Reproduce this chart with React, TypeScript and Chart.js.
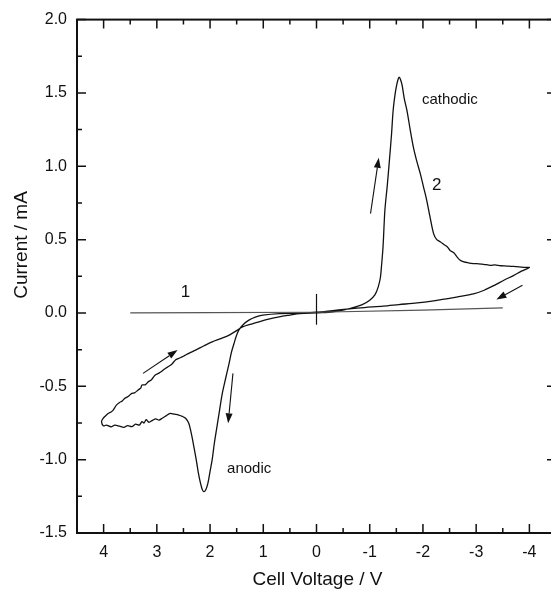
import React, { useEffect, useRef } from "react";
import { Chart, registerables } from "chart.js";
Chart.register(...registerables);

const xMajorTicks = [4, 3, 2, 1, 0, -1, -2, -3, -4];
const xMinorTicks = [3.5, 2.5, 1.5, 0.5, -0.5, -1.5, -2.5, -3.5];
const yMajorTicks = [2.0, 1.5, 1.0, 0.5, 0.0, -0.5, -1.0, -1.5];
const yMinorTicks = [1.75, 1.25, 0.75, 0.25, -0.25, -0.75, -1.25];

const xTitle = "Cell Voltage / V";
const yTitle = "Current / mA";

// Curve 1 (blank electrolyte)
const curve1Voltage = [3.5, 2.0, 0.0, -2.0, -3.5];
const curve1Current = [0.0, 0.002, 0.005, 0.02, 0.035];

// Curve 2 (cyclic voltammogram): 0 -> -4 -> 0 -> +4 -> 0
const cathodicVoltage = [0, -0.3, -0.62, -0.85, -1.0, -1.1, -1.16, -1.2, -1.22, -1.25, -1.285, -1.33, -1.37, -1.41, -1.44, -1.48, -1.51, -1.535, -1.556, -1.58, -1.61, -1.65, -1.7, -1.76, -1.82, -1.88, -1.95, -2.01, -2.07, -2.13, -2.2, -2.26, -2.33, -2.4, -2.46, -2.51, -2.58, -2.64, -2.7, -2.77, -2.85, -2.95, -3.05, -3.14, -3.27, -3.35, -3.46, -3.58, -3.65, -3.75, -3.85, -3.93, -4.0];
const cathodicCurrent = [0, 0.008, 0.03, 0.055, 0.087, 0.125, 0.178, 0.24, 0.314, 0.45, 0.7, 0.87, 1.04, 1.22, 1.38, 1.5, 1.56, 1.595, 1.607, 1.59, 1.55, 1.46, 1.38, 1.25, 1.13, 1.04, 0.95, 0.86, 0.77, 0.66, 0.541, 0.5, 0.484, 0.465, 0.45, 0.426, 0.41, 0.382, 0.36, 0.348, 0.342, 0.337, 0.335, 0.332, 0.325, 0.328, 0.322, 0.32, 0.318, 0.316, 0.313, 0.311, 0.31];
const returnVoltage = [-3.85, -3.7, -3.52, -3.35, -3.15, -2.95, -2.7, -2.5, -2.2, -1.89, -1.55, -1.25, -0.9, -0.62, -0.3, 0];
const returnCurrent = [0.285, 0.255, 0.223, 0.19, 0.155, 0.13, 0.113, 0.099, 0.083, 0.069, 0.057, 0.046, 0.037, 0.028, 0.016, 0.005];
const anodicVoltage = [0.32, 0.7, 1.01, 1.15, 1.27, 1.38, 1.46, 1.51, 1.55, 1.6, 1.64, 1.71, 1.77, 1.82, 1.87, 1.92, 1.96, 2.0, 2.04, 2.08, 2.12, 2.15, 2.18, 2.22, 2.26, 2.3, 2.34, 2.4, 2.46, 2.52, 2.59, 2.67, 2.75, 2.82, 2.9, 2.96, 3.02, 3.09, 3.15, 3.2, 3.24, 3.28, 3.33, 3.4, 3.47, 3.55, 3.62, 3.7, 3.79, 3.86, 3.95, 4.0, 4.04];
const anodicCurrent = [-0.002, -0.004, -0.015, -0.028, -0.049, -0.08, -0.117, -0.16, -0.208, -0.27, -0.34, -0.45, -0.548, -0.66, -0.775, -0.89, -1.0, -1.08, -1.16, -1.205, -1.218, -1.2, -1.16, -1.09, -1.0, -0.92, -0.843, -0.752, -0.718, -0.705, -0.696, -0.69, -0.684, -0.7, -0.718, -0.73, -0.722, -0.734, -0.745, -0.728, -0.75, -0.741, -0.765, -0.758, -0.775, -0.768, -0.78, -0.772, -0.764, -0.776, -0.764, -0.77, -0.741];
const backVoltage = [4.01, 3.96, 3.91, 3.86, 3.82, 3.79, 3.76, 3.7, 3.65, 3.6, 3.54, 3.47, 3.42, 3.35, 3.3, 3.28, 3.22, 3.16, 3.1, 3.03, 2.96, 2.9, 2.84, 2.78, 2.72, 2.65, 2.59, 2.5, 2.4, 2.27, 2.12, 1.96, 1.8, 1.64, 1.5, 1.39, 1.25, 1.08, 0.9, 0.7, 0.5, 0.32, 0];
const backCurrent = [-0.718, -0.7, -0.684, -0.675, -0.662, -0.645, -0.628, -0.61, -0.6, -0.582, -0.57, -0.548, -0.545, -0.525, -0.51, -0.491, -0.49, -0.469, -0.455, -0.423, -0.41, -0.395, -0.378, -0.365, -0.35, -0.32, -0.31, -0.295, -0.275, -0.253, -0.225, -0.197, -0.175, -0.151, -0.12, -0.095, -0.078, -0.06, -0.042, -0.026, -0.014, -0.004, 0];

// Arrows [tailV, tailI, headV, headI]
const arrows = [
  [-1.015, 0.677, -1.17, 1.058],
  [-3.87, 0.189, -3.38, 0.092],
  [3.26, -0.412, 2.61, -0.253],
  [1.57, -0.412, 1.66, -0.752],
];
const zeroMarker = [0, 0.13, 0, -0.08];

const labelTexts = ["cathodic", "2", "anodic", "1"];
const labelVoltages = [-1.98, -2.26, 1.68, 2.46];
const labelCurrents = [1.453, 0.87, -1.065, 0.144];
const labelAligns = ["left", "center", "left", "center"];
const labelSizes = [15, 17, 15, 17];

const FONT = "'Liberation Sans', Arial, Helvetica, sans-serif";

function toXY(vs: number[], is: number[]) {
  return vs.map((v, k) => ({ x: v, y: is[k] }));
}

const framePlugin = {
  id: "frameAndMarks",
  afterDraw(chart: any) {
    const { ctx, chartArea, scales } = chart;
    const { left, right, top, bottom } = chartArea;
    const xs = scales.x;
    const ys = scales.y;
    ctx.save();
    ctx.strokeStyle = "#111";
    ctx.lineWidth = 2;
    ctx.strokeRect(left, top, right - left, bottom - top);
    ctx.lineWidth = 1.5;
    const major = 9;
    const minor = 5;
    ctx.beginPath();
    xMajorTicks.forEach((v) => {
      const p = xs.getPixelForValue(v);
      ctx.moveTo(p, bottom); ctx.lineTo(p, bottom - major);
      ctx.moveTo(p, top); ctx.lineTo(p, top + major);
    });
    xMinorTicks.forEach((v) => {
      const p = xs.getPixelForValue(v);
      ctx.moveTo(p, bottom); ctx.lineTo(p, bottom - minor);
      ctx.moveTo(p, top); ctx.lineTo(p, top + minor);
    });
    yMajorTicks.forEach((v) => {
      const p = ys.getPixelForValue(v);
      ctx.moveTo(left, p); ctx.lineTo(left + major, p);
      ctx.moveTo(right, p); ctx.lineTo(right - major, p);
    });
    yMinorTicks.forEach((v) => {
      const p = ys.getPixelForValue(v);
      ctx.moveTo(left, p); ctx.lineTo(left + minor, p);
      ctx.moveTo(right, p); ctx.lineTo(right - minor, p);
    });
    ctx.stroke();

    // zero marker
    ctx.lineWidth = 1.2;
    ctx.beginPath();
    ctx.moveTo(xs.getPixelForValue(zeroMarker[0]), ys.getPixelForValue(zeroMarker[1]));
    ctx.lineTo(xs.getPixelForValue(zeroMarker[2]), ys.getPixelForValue(zeroMarker[3]));
    ctx.stroke();

    // arrows
    ctx.fillStyle = "#111";
    ctx.lineWidth = 1.1;
    arrows.forEach(([tv, ti, hv, hi]) => {
      const x1 = xs.getPixelForValue(tv), y1 = ys.getPixelForValue(ti);
      const x2 = xs.getPixelForValue(hv), y2 = ys.getPixelForValue(hi);
      const ang = Math.atan2(y2 - y1, x2 - x1);
      const hl = 10, hw = 3.5;
      const bx = x2 - hl * Math.cos(ang), by = y2 - hl * Math.sin(ang);
      ctx.beginPath();
      ctx.moveTo(x1, y1); ctx.lineTo(bx, by);
      ctx.stroke();
      ctx.beginPath();
      ctx.moveTo(x2, y2);
      ctx.lineTo(bx + hw * Math.sin(ang), by - hw * Math.cos(ang));
      ctx.lineTo(bx - hw * Math.sin(ang), by + hw * Math.cos(ang));
      ctx.closePath();
      ctx.fill();
    });

    // in-plot labels
    ctx.textBaseline = "middle";
    labelTexts.forEach((t, k) => {
      ctx.font = `${labelSizes[k]}px ${FONT}`;
      ctx.textAlign = labelAligns[k] as CanvasTextAlign;
      ctx.fillText(t, xs.getPixelForValue(labelVoltages[k]), ys.getPixelForValue(labelCurrents[k]));
    });

    // axis titles
    ctx.font = `19px ${FONT}`;
    ctx.textAlign = "center";
    ctx.fillText(xTitle, (left + right) / 2 + 1, 580);
    ctx.save();
    ctx.translate(22, 245);
    ctx.rotate(-Math.PI / 2);
    ctx.fillText(yTitle, 0, 0);
    ctx.restore();
    ctx.restore();
  },
};

export default function App() {
  const ref = useRef<HTMLCanvasElement | null>(null);
  useEffect(() => {
    if (!ref.current) return;
    const cvData = [
      ...toXY(cathodicVoltage, cathodicCurrent),
      ...toXY(returnVoltage, returnCurrent),
      ...toXY(anodicVoltage, anodicCurrent),
      ...toXY(backVoltage, backCurrent),
    ];
    const chart = new Chart(ref.current, {
      type: "scatter",
      data: {
        datasets: [
          {
            label: "1",
            data: toXY(curve1Voltage, curve1Current),
            showLine: true,
            borderColor: "#555",
            borderWidth: 1.2,
            pointRadius: 0,
            tension: 0,
          },
          {
            label: "2",
            data: cvData,
            showLine: true,
            borderColor: "#111",
            borderWidth: 1.3,
            pointRadius: 0,
            tension: 0.3,
          },
        ],
      },
      plugins: [framePlugin],
      options: {
        animation: false,
        responsive: true,
        maintainAspectRatio: false,
        layout: { padding: { left: 0, top: 19, right: 4, bottom: 0 } },
        plugins: { legend: { display: false }, tooltip: { enabled: false } },
        scales: {
          x: {
            type: "linear",
            min: -4.5,
            max: 4.5,
            reverse: true,
            grid: { display: false, drawTicks: false },
            border: { display: false },
            afterBuildTicks: (s: any) => {
              s.ticks = xMajorTicks.map((v) => ({ value: v }));
            },
            afterFit: (s: any) => {
              s.height = 58;
            },
            ticks: {
              color: "#111",
              font: { family: FONT, size: 16 },
              padding: 10,
              maxRotation: 0,
              callback: (v: any) => String(v),
            },
            title: { display: false, text: xTitle },
          },
          y: {
            type: "linear",
            min: -1.5,
            max: 2.0,
            grid: { display: false, drawTicks: false },
            border: { display: false },
            afterBuildTicks: (s: any) => {
              s.ticks = yMajorTicks.map((v) => ({ value: v }));
            },
            afterFit: (s: any) => {
              s.width = 77;
            },
            ticks: {
              color: "#111",
              font: { family: FONT, size: 16 },
              padding: 10,
              callback: (v: any) => Number(v).toFixed(1),
            },
            title: { display: false, text: yTitle },
          },
        },
      },
    });
    return () => chart.destroy();
  }, []);
  return (
    <div style={{ position: "absolute", left: 0, top: 0, width: 551, height: 591, overflow: "hidden", background: "#fff" }}>
      <div style={{ position: "relative", width: 560, height: 591 }}>
        <canvas ref={ref} />
      </div>
    </div>
  );
}
